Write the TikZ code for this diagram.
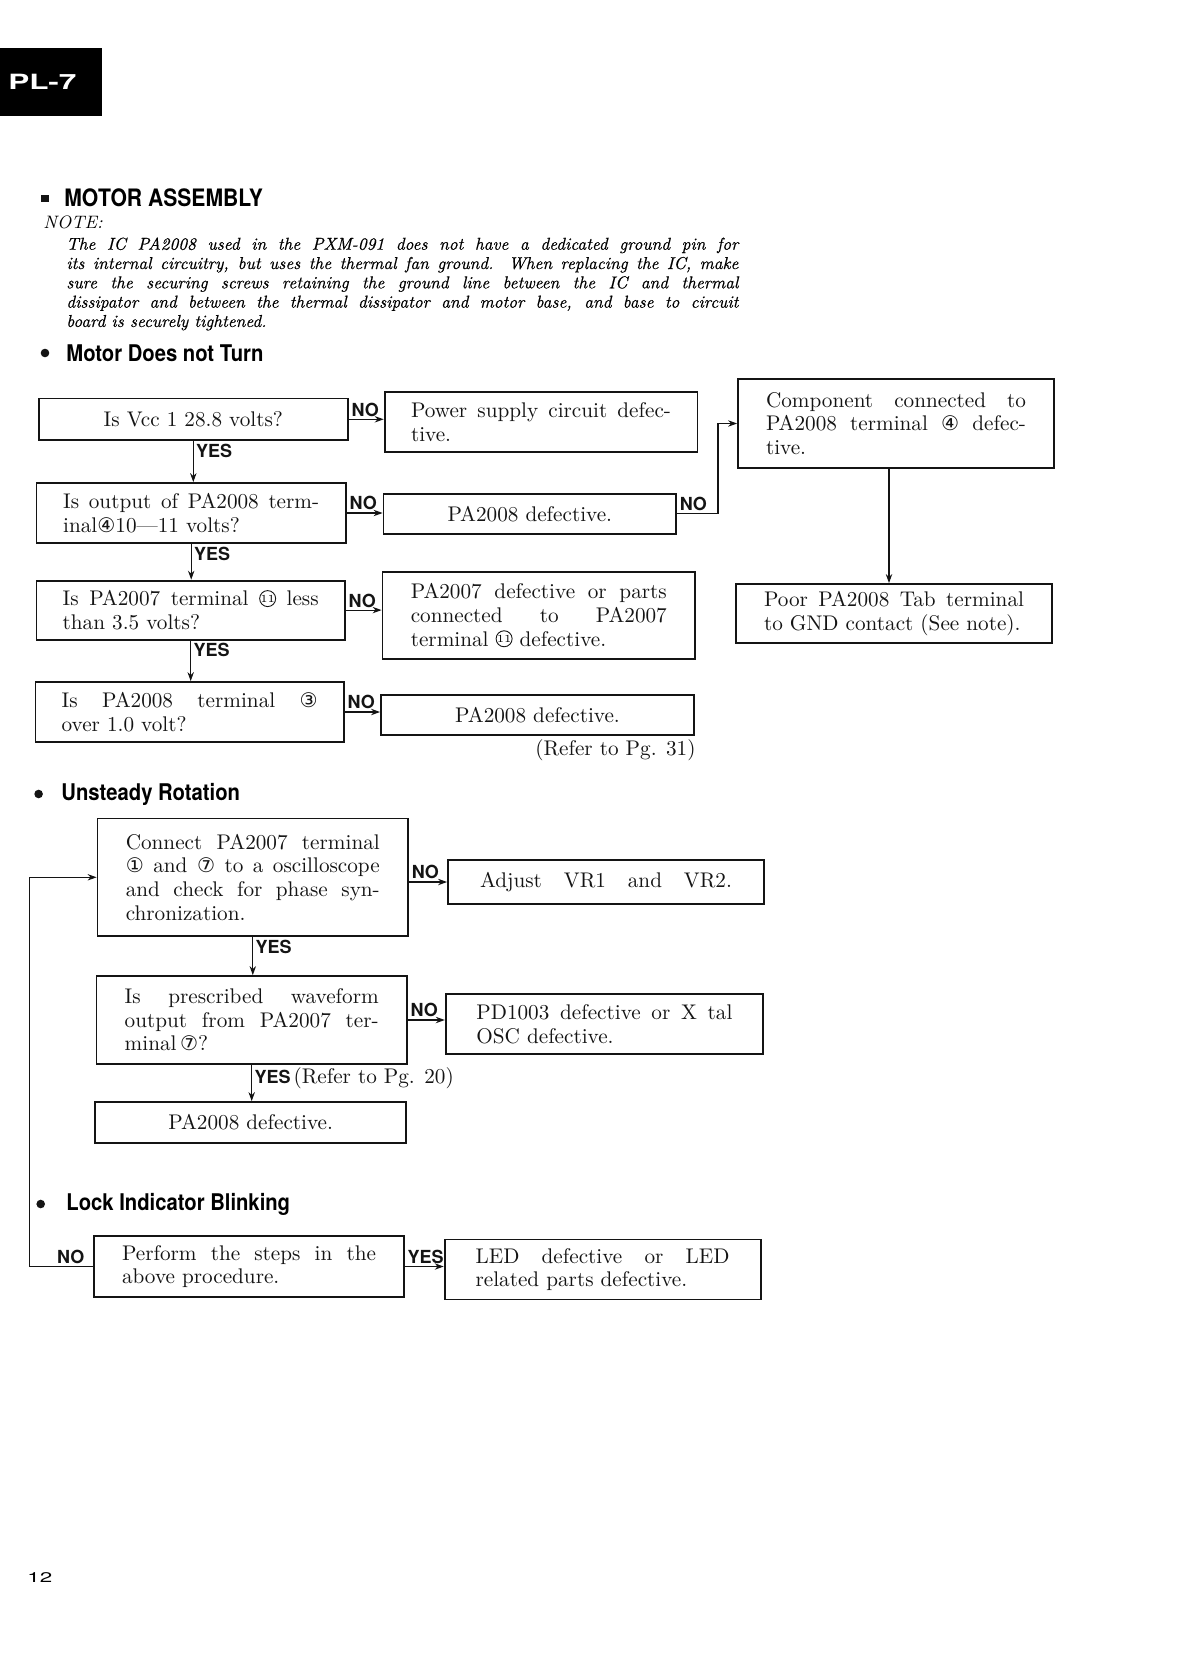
\documentclass[tikz,border=0pt]{standalone}
\usepackage{fontspec}
\usepackage{graphicx}
\usetikzlibrary{arrows.meta}
\setsansfont{TeX Gyre Heros}
\newfontfamily\circfont{DejaVu Sans}[Scale=0.95]
\newfontfamily\notefont{lmroman10-italic}[Extension=.otf,FakeBold=0.45]
\definecolor{ink}{HTML}{141414}
\newcommand{\cn}[1]{{\circfont #1}}
% circled 11 is missing from the fonts, so it is drawn
\newcommand{\celf}{\tikz[baseline=-3.7pt]{\draw[ink,line width=0.45pt] (0pt,0pt) circle (4pt);
  \pgftext{\fontsize{5.4}{5.4}\selectfont 11}}}
\newcommand{\bfont}{\fontsize{10.6}{11.8}\selectfont}
\newcommand{\hd}[2][11.5]{\scalebox{0.88}[1]{\sffamily\bfseries\fontsize{#1}{14}\selectfont #2}}

\begin{document}
\begin{tikzpicture}[x=0.5pt,y=-0.5pt,
  qbox/.style={draw=ink,line width=0.9pt,inner sep=0pt,font=\bfont,align=justify,text=ink},
  lab/.style={font=\sffamily\bfseries\fontsize{9}{10}\selectfont,inner sep=1.2pt,text=ink},
  arr/.style={draw=ink,line width=0.55pt,-{Stealth[length=4.5pt,width=3.2pt]}}]
  \useasboundingbox (0,0) rectangle (1188,1680);

  % header and note
  \fill[black] (0,48) rectangle (102,116);
  \node[text=white,anchor=west,inner sep=0pt] (tag) at (8,82) {\scalebox{1.5}[1]{\sffamily\bfseries\fontsize{10.5}{12}\selectfont PL-7}};
  \fill[ink] (41,195) rectangle (48.5,202.5);
  \node[anchor=west,inner sep=0pt] (ttl) at (64,198) {\hd[12]{MOTOR ASSEMBLY}};
  \node[anchor=west,inner sep=0pt,font=\fontsize{9}{10}\selectfont\itshape] (nt) at (43,222) {NOTE:};
  \node[anchor=north west,inner sep=0pt,text width=336pt,align=justify,font=\fontsize{8.6}{9.65}\selectfont\notefont] (ntx) at (66,237)
    {The IC PA2008 used in the PXM-091 does not have a dedicated ground pin for\linebreak
     its internal circuitry, but uses the thermal fan ground. When replacing the IC, make\linebreak
     sure the securing screws retaining the ground line between the IC and thermal\linebreak
     dissipator and between the thermal dissipator and motor base, and base to circuit\linebreak
     board is securely tightened.};

  \foreach \n/\x/\y/\t/\h in {s1/45/353/66/{Motor Does not Turn},
      s2/38.6/794/61/{Unsteady Rotation}, s3/40.7/1204/66/{Lock Indicator Blinking}}{
    \fill[ink] (\x,\y) circle (2.15pt);
    \node[anchor=west,inner sep=0pt] (\n) at (\t,\y) {\hd{\h}};
  }

  % motor does not turn
  \node[qbox,align=center,minimum width=154.7pt,minimum height=20.8pt] (qvcc) at (193.3,419.3) {Is Vcc 1 28.8 volts?};
  \node[qbox,minimum width=156.4pt,minimum height=30pt,text width=130pt] (rpow) at (541,422) {Power supply circuit defec-\linebreak tive.};
  \node[qbox,minimum width=158pt,minimum height=44.5pt,text width=130pt] (rcomp) at (896,423.5) {Component connected to\linebreak PA2008 terminal \cn{④} defec-\linebreak tive.};
  \node[qbox,minimum width=154.8pt,minimum height=30pt,text width=128pt] (qout) at (191.2,513) {Is output of PA2008 term-\linebreak inal\cn{④}10—11 volts?};
  \node[qbox,align=center,minimum width=146.3pt,minimum height=19.8pt] (rdef) at (529.8,513.8) {PA2008 defective.};
  \node[qbox,minimum width=154.3pt,minimum height=29.5pt,text width=128pt] (qpa7) at (190.7,610.1) {Is PA2007 terminal \celf{} less\linebreak than 3.5 volts?};
  \node[qbox,minimum width=156.3pt,minimum height=43.5pt,text width=128pt] (rpa7) at (538.8,615.5) {PA2007 defective or parts\linebreak connected to PA2007\linebreak terminal \celf{} defective.};
  \node[qbox,minimum width=158pt,minimum height=29.5pt,text width=130pt] (rtab) at (894,613.5) {Poor PA2008 Tab terminal\linebreak to GND contact (See note).};
  \node[qbox,minimum width=154.3pt,minimum height=30pt,text width=128pt] (qpa3) at (189.7,712) {Is PA2008 terminal \cn{③}\linebreak over 1.0 volt?};
  \node[qbox,align=center,minimum width=156.5pt,minimum height=20pt] (rdefb) at (537.5,715) {PA2008 defective.};
  \node[anchor=north east,inner sep=1.5pt,font=\bfont,text=ink] (ref31) at ([xshift=2pt]rdefb.south east) {(Refer to Pg. 31)};

  \foreach \q/\r in {qvcc/rpow,qout/rdef,qpa7/rpa7,qpa3/rdefb}{
    \draw[arr] (\q.east) -- (\q.east -| \r.west);
    \node[lab,anchor=south west] (no-\q) at (\q.east) {NO};
  }
  \foreach \q/\p in {qvcc/qout,qout/qpa7,qpa7/qpa3}{
    \draw[arr] (\q.south) -- (\q.south |- \p.north);
    \node[lab,anchor=north west] (yes-\q) at (\q.south) {YES};
  }
  \draw[arr] (rdef.east) -- ++(41,0) |- (rcomp.west);
  \node[lab,anchor=south west] (no-rdef) at (rdef.east) {NO};
  \draw[arr] ([xshift=-3.5pt]rcomp.south) -- ([xshift=-3.5pt]rcomp.south |- rtab.north);

  % unsteady rotation
  \node[qbox,minimum width=155.3pt,minimum height=58.8pt,text width=127pt] (qsync) at (252.8,877.3) {Connect PA2007 terminal\linebreak \cn{①} and \cn{⑦} to a oscilloscope\linebreak and check for phase syn-\linebreak chronization.};
  \node[qbox,minimum width=158pt,minimum height=22pt,text width=126pt] (rvr) at (606,882) {Adjust\hfill VR1\hfill and\hfill VR2.};
  \node[qbox,minimum width=155.3pt,minimum height=44pt,text width=127pt] (qwave) at (251.7,1020) {Is prescribed waveform\linebreak output from PA2007 ter-\linebreak minal\,\cn{⑦}?};
  \node[qbox,minimum width=158.7pt,minimum height=30pt,text width=128pt] (rxtal) at (604.4,1024) {PD1003 defective or X tal\linebreak OSC defective.};
  \node[qbox,align=center,minimum width=155.4pt,minimum height=20.5pt] (rdefc) at (250.7,1122.5) {PA2008 defective.};

  \draw[arr] (qsync.east |- rvr.west) -- (rvr.west);
  \node[lab,anchor=south west] (no-sync) at (qsync.east |- rvr.west) {NO};
  \draw[arr] (qsync.south) -- (qsync.south |- qwave.north);
  \node[lab,anchor=north west] (yes-sync) at (qsync.south) {YES};
  \draw[arr] (qwave.east) -- (qwave.east -| rxtal.west);
  \node[lab,anchor=south west] (no-wave) at (qwave.east) {NO};
  \draw[arr] (qwave.south) -- (qwave.south |- rdefc.north);
  \node[lab,anchor=north west] (yes-wave) at (qwave.south) {YES\,{\rmfamily\mdseries\bfont(Refer to Pg. 20)}};

  % lock indicator blinking
  \node[qbox,minimum width=155pt,minimum height=30.5pt,text width=127pt] (qlock) at (249,1266.5) {Perform the steps in the\linebreak above procedure.};
  \node[qbox,minimum width=158pt,minimum height=30pt,text width=127pt] (rled) at (602.6,1269.5) {LED defective or LED\linebreak related parts defective.};
  \draw[arr] (qlock.east) -- (qlock.east -| rled.west);
  \node[lab,anchor=south west] (yes-lock) at (qlock.east) {YES};
  \draw[arr] (qlock.west) -- ++(-64,0) |- (qsync.west);
  \node[lab,anchor=south east] (no-lock) at ([xshift=-3pt]qlock.west) {NO};

  \node[anchor=west,inner sep=0pt] (pg) at (27,1578) {\scalebox{1.6}[1]{\sffamily\fontsize{7}{8}\selectfont 12}};
\end{tikzpicture}
\end{document}
